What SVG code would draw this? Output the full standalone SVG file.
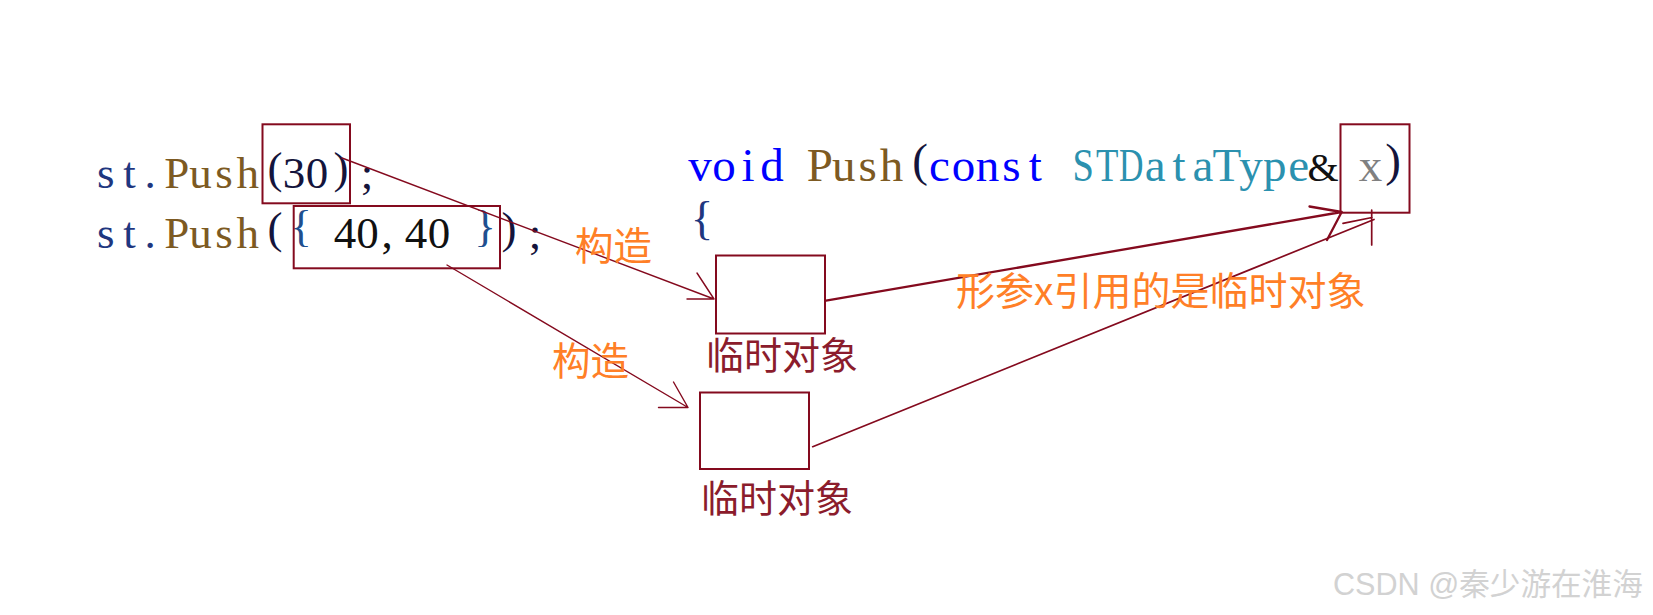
<svg xmlns="http://www.w3.org/2000/svg" width="1653" height="615" viewBox="0 0 1653 615">
<style>
.code{font-family:"Liberation Serif","DejaVu Serif",serif;text-anchor:middle}
.box{fill:none;stroke:#840a1e;stroke-width:2}
.tmp{fill:#ffffff;stroke:#840a1e;stroke-width:2}
.cn{font-family:"Noto Sans CJK SC","Noto Sans",sans-serif}
.orange{fill:#ff7f27}
.dark{fill:#8b1c2c}
.conn{fill:none;stroke:#840a1e;stroke-linecap:round;stroke-linejoin:round}
.fn{fill:#7d5a22}
.kw{fill:#0000ff}
.var{fill:#1f377f}
.typ{fill:#2b91af}
.blk{fill:#14143c}
</style>
<rect width="1653" height="615" fill="#ffffff"/>

<g id="code-left">
<text class="code" font-size="45" y="187.7"><tspan class="var" x="105.8 129.5 150">st.</tspan><tspan class="fn" x="176.8 200.4 224.1 247.8">Push</tspan><tspan class="blk" x="275" y="182.7">(</tspan><tspan class="blk" x="294 317" y="187.7">30</tspan><tspan class="blk" x="341" y="182.7">)</tspan><tspan class="blk" x="367" y="187.7">;</tspan></text>
<text class="code" font-size="45" y="248.3"><tspan class="var" x="105.8 129.5 150">st.</tspan><tspan class="fn" x="176.8 200.4 224.1 247.8">Push</tspan><tspan class="blk" x="275" y="243.3">(</tspan><tspan fill="#1f4f8f" x="301" y="241">{</tspan><tspan fill="#111111" x="345 367.5 387 416 439" y="248.3">40,40</tspan><tspan fill="#1f4f8f" x="485" y="241">}</tspan><tspan class="blk" x="509" y="243.3">)</tspan><tspan class="blk" x="535" y="248.3">;</tspan></text>
</g>

<g id="code-right">
<text class="code" font-size="47" y="180.5"><tspan class="kw" x="700 724 748 772">void</tspan><tspan class="fn" x="819.8 843.7 867.7 891.6">Push</tspan><tspan class="blk" x="920" y="175.5">(</tspan><tspan class="kw" x="939.5 963.5 987.4 1011.4 1035.3" y="180.5">const</tspan><tspan class="typ" x="1155.1 1179 1203 1226.9 1250.9 1274.8 1298.8">ataType</tspan><tspan fill="#111111" x="1323" font-size="40">&amp;</tspan><tspan fill="#808080" x="1370.6">x</tspan><tspan class="blk" x="1393" y="175.5">)</tspan></text>
<text class="code typ" font-size="47" transform="translate(1083.2,180.5) scale(0.82,1)">S</text>
<text class="code typ" font-size="47" transform="translate(1107.2,180.5) scale(0.78,1)">T</text>
<text class="code typ" font-size="47" transform="translate(1131.1,180.5) scale(0.72,1)">D</text>
<text class="code" font-size="47" x="702" y="234" fill="#1f377f">{</text>
</g>

<g id="box-arg30"><rect class="box" x="262.5" y="124.3" width="87.5" height="79"/></g>
<g id="box-arg-init"><rect class="box" x="293.7" y="206" width="206.3" height="62.3"/></g>
<g id="box-param-x"><rect class="box" x="1340.5" y="124.3" width="69" height="88.4"/></g>

<g id="temp1">
<rect class="tmp" x="716" y="255.5" width="109" height="78"/>
<text class="cn dark" x="706" y="368.5" font-size="38">临时对象</text>
</g>
<g id="temp2">
<rect class="tmp" x="700" y="392.5" width="109" height="76.5"/>
<text class="cn dark" x="701" y="512" font-size="38">临时对象</text>
</g>

<g id="connectors">
<path class="conn" stroke-width="1.4" d="M342,158 L714,299 M687,299 L714,299 L697,273"/>
<path class="conn" stroke-width="1.4" d="M447,265 L688,407.5 M658.5,407.5 L688,407.5 L673.5,382"/>
<path class="conn" stroke-width="2.3" d="M826,300.7 L1341.7,212 M1309.5,206.5 L1341.7,212 L1327,240"/>
<path class="conn" stroke-width="1.7" d="M812.7,446.7 L1374,219.5 M1343,223.3 L1372,217.5 M1371.7,210 L1371.7,245"/>
</g>

<g id="labels">
<text class="cn orange" x="575" y="260" font-size="38.5">构造</text>
<text class="cn orange" x="552" y="375" font-size="38.5">构造</text>
<text class="cn orange" x="956" y="305" font-size="39">形参x引用的是临时对象</text>
</g>

<g id="watermark">
<text x="1333" y="595" font-size="30.6" fill="#d2d2d2" font-family="'Liberation Sans','Noto Sans CJK SC',sans-serif">CSDN @秦少游在淮海</text>
</g>
</svg>
